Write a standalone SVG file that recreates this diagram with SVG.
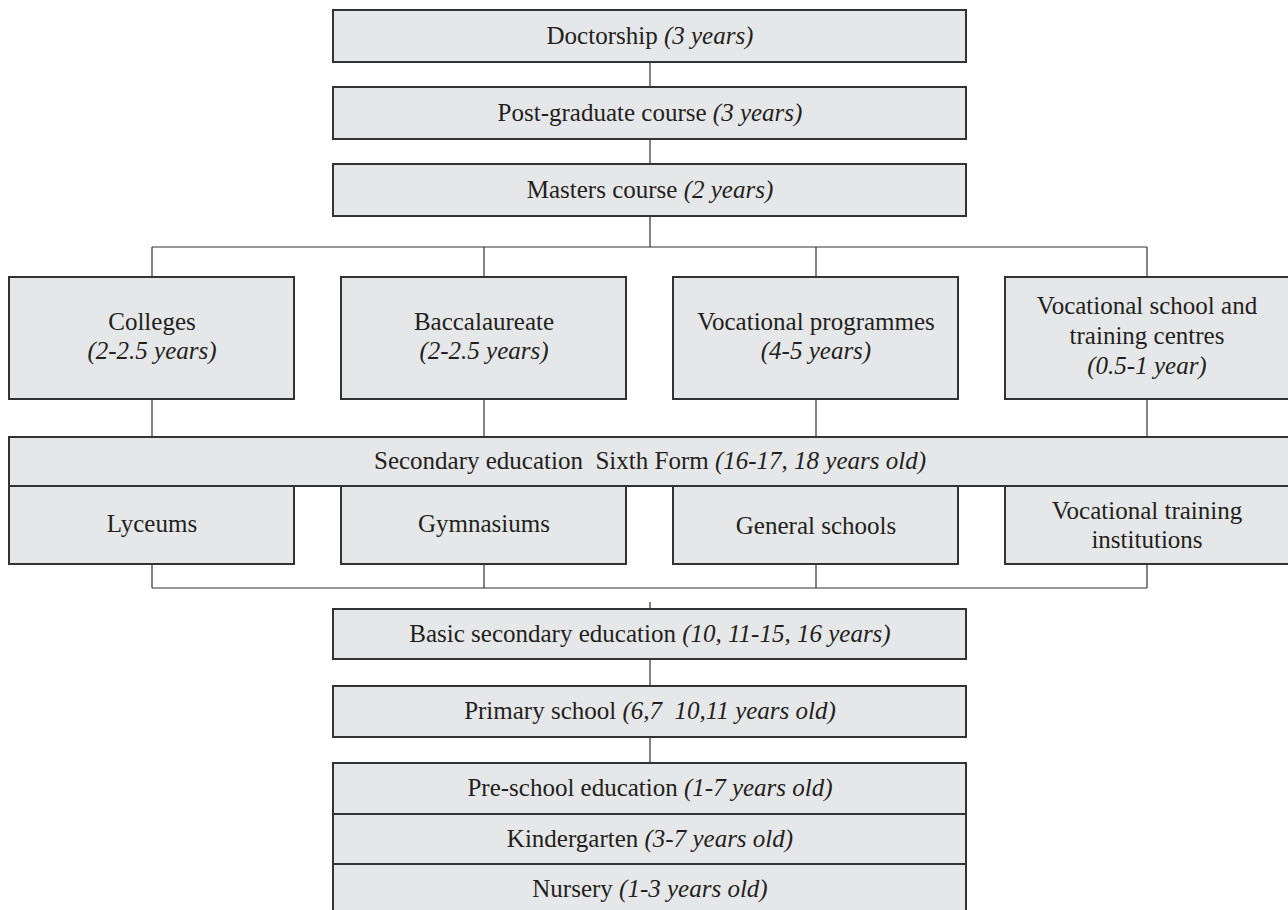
<svg xmlns="http://www.w3.org/2000/svg" width="1288" height="910" viewBox="0 0 1288 910">
<style>
.box{fill:#e6e7e8;stroke:#333;stroke-width:2}
.con{fill:none;stroke:#333;stroke-width:1.2}
text{font-family:"Liberation Serif","DejaVu Serif",serif;font-size:25px;fill:#231f20;text-anchor:middle;white-space:pre}
.i{font-style:italic}
</style>
<rect width="1288" height="910" fill="#fff"/>
<g id="connectors">
<path class="con" d="M650 62V87M650 139V164M650 216V247M152 247H1147M152 247V277M484 247V277M816 247V277M1147 247V277"/>
<path class="con" d="M152 399V437M484 399V437M816 399V437M1147 399V437"/>
<path class="con" d="M152 564V588M484 564V588M816 564V588M1147 564V588M152 588H1147M650 602V609M650 659V686M650 737V763"/>
</g>
<g id="doctorship"><rect class="box" x="333" y="10" width="633" height="52"/><text x="650" y="44">Doctorship <tspan class="i">(3 years)</tspan></text></g>
<g id="postgraduate"><rect class="box" x="333" y="87" width="633" height="52"/><text x="650" y="121">Post-graduate course <tspan class="i">(3 years)</tspan></text></g>
<g id="masters"><rect class="box" x="333" y="164" width="633" height="52"/><text x="650" y="198">Masters course <tspan class="i">(2 years)</tspan></text></g>
<g id="colleges"><rect class="box" x="9" y="277" width="285" height="122"/><text x="152" y="330">Colleges</text><text class="i" x="152" y="359">(2-2.5 years)</text></g>
<g id="baccalaureate"><rect class="box" x="341" y="277" width="285" height="122"/><text x="484" y="330">Baccalaureate</text><text class="i" x="484" y="359">(2-2.5 years)</text></g>
<g id="vocational-programmes"><rect class="box" x="673" y="277" width="285" height="122"/><text x="816" y="330">Vocational programmes</text><text class="i" x="816" y="359">(4-5 years)</text></g>
<g id="vocational-school"><rect class="box" x="1005" y="277" width="287" height="122"/><text x="1147" y="314">Vocational school and</text><text x="1147" y="344">training centres</text><text class="i" x="1147" y="374">(0.5-1 year)</text></g>
<g id="secondary"><rect class="box" x="9" y="437" width="1283" height="49"/><text x="650" y="469">Secondary education  Sixth Form <tspan class="i">(16-17, 18 years old)</tspan></text></g>
<g id="lyceums"><rect class="box" x="9" y="486" width="285" height="78"/><text x="152" y="532">Lyceums</text></g>
<g id="gymnasiums"><rect class="box" x="341" y="486" width="285" height="78"/><text x="484" y="532">Gymnasiums</text></g>
<g id="general-schools"><rect class="box" x="673" y="486" width="285" height="78"/><text x="816" y="534">General schools</text></g>
<g id="vocational-training"><rect class="box" x="1005" y="486" width="287" height="78"/><text x="1147" y="519">Vocational training</text><text x="1147" y="548">institutions</text></g>
<g id="basic-secondary"><rect class="box" x="333" y="609" width="633" height="50"/><text x="650" y="642">Basic secondary education <tspan class="i">(10, 11-15, 16 years)</tspan></text></g>
<g id="primary"><rect class="box" x="333" y="686" width="633" height="51"/><text x="650" y="719">Primary school <tspan class="i">(6,7  10,11 years old)</tspan></text></g>
<g id="preschool"><rect class="box" x="333" y="763" width="633" height="51"/><text x="650" y="796">Pre-school education <tspan class="i">(1-7 years old)</tspan></text></g>
<g id="kindergarten"><rect class="box" x="333" y="814" width="633" height="50"/><text x="650" y="847">Kindergarten <tspan class="i">(3-7 years old)</tspan></text></g>
<g id="nursery"><rect class="box" x="333" y="864" width="633" height="50"/><text x="650" y="897">Nursery <tspan class="i">(1-3 years old)</tspan></text></g>
</svg>
